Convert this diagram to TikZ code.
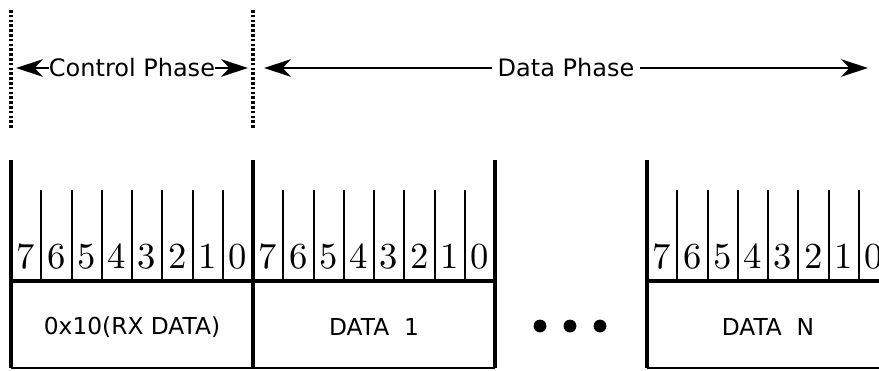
\documentclass[tikz,border=0pt]{standalone}
\usepackage{fontspec}
\newfontfamily\dejavu{DejaVu Sans}
\usetikzlibrary{arrows.meta,positioning}
\newcommand\bitframe[3]{%
\draw[thickline] (#1,\yTop) -- (#1,\yBot);
\draw[thickline] (#1+\fw,\yTop) -- (#1+\fw,\yBot);
\draw[thickline] (#1,\yMid) -- (#1+\fw,\yMid);
\draw[thinline] (#1,\yBot) -- (#1+\fw,\yBot);
\foreach \b in {1,...,7}
	\draw[thinline] (#1+\b*\cw,\yTick) -- (#1+\b*\cw,\yMid);
\foreach \b [evaluate=\b as \d using int(7-\b)] in {0,...,7}
	\node[bit] at (#1+\b*\cw+0.5*\cw,\yDig) {\scalebox{2.75}{\d}};
\node[field] (#2) at (#1+0.5*\fw,\yLab) {#3};
}

\begin{document}
\begin{tikzpicture}[x=0.75pt,y=-0.75pt,
	thickline/.style={line width=3pt},
	thinline/.style={line width=1.5pt},
	dotline/.style={line width=2.6pt,dash pattern=on 2pt off 1.6pt},
	phase/.style={font=\dejavu\fontsize{18}{21}\selectfont,inner sep=3pt},
	phasearrow/.style={line width=2.2pt,-{Stealth[length=20pt,width=13pt,inset=6pt]}},
	bit/.style={anchor=base,inner sep=0pt,font=\fontsize{10}{12}\selectfont},
	field/.style={font=\dejavu\fontsize{17.5}{20}\selectfont}]
	%% some definitions
	\def\fw{242} % frame width
	\def\cw{30.25} % bit cell width
	\def\yTop{160}
	\def\yTick{190}
	\def\yMid{281}
	\def\yBot{368}
	\def\yDig{268}
	\def\yLab{327}
	
	\useasboundingbox (0,0) rectangle (879,371);
	\clip (0,0) rectangle (879,371);
	
	% phase boundaries
	\draw[dotline] (11,10) -- (11,128);
	\draw[dotline] (253,10) -- (253,128);
	
	\node[phase,inner sep=0pt] (ctrl) at (132,68) {Control Phase};
	\coordinate (ctrlL) at (16,68);
	\coordinate (ctrlR) at (248,68);
	\draw[phasearrow] (ctrl.west) -- (ctrlL);
	\draw[phasearrow] (ctrl.east) -- (ctrlR);
	
	\node[phase,inner sep=4pt] (data) at (566,68) {Data Phase};
	\coordinate (dataL) at (264,68);
	\coordinate (dataR) at (868,68);
	\draw[phasearrow] (data.west) -- (dataL);
	\draw[phasearrow] (data.east) -- (dataR);
	
	% frames
	\bitframe{11}{cmd}{0x10(RX DATA)}
	\bitframe{253}{first}{DATA~~1}
	\bitframe{647}{last}{DATA~~N}
	
	% dots
	\foreach \x in {540,570,600}
		\fill (\x,326) circle (4.8pt);
	
\end{tikzpicture}
\end{document}
